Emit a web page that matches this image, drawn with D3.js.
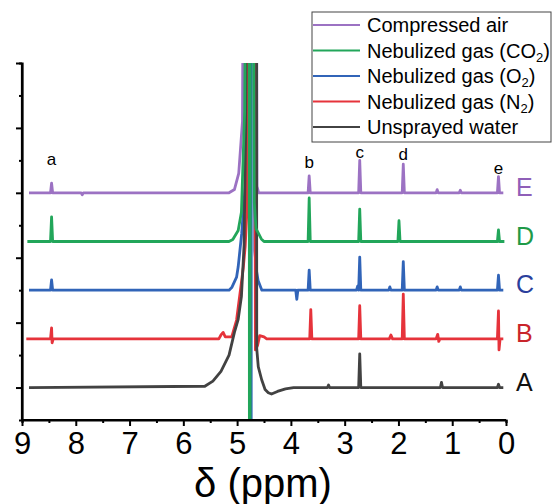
<!DOCTYPE html>
<html lang="en">
<head>
    <meta charset="UTF-8">
    <script src="https://d3js.org/d3.v7.min.js"></script>
    <style>
        body { margin: 0; background: #fff; }
        text { font-family: "Liberation Sans", Arial, sans-serif; }
    </style>
</head>
<body>
    <svg width="554" height="504"></svg>

    <script>
        // spectra as [ppm, intensity], each on its own baseline
        let seriesNames = ["Compressed air", "Nebulized gas (CO2)", "Nebulized gas (O2)", "Nebulized gas (N2)", "Unsprayed water"];
        let seriesLetters = ["E", "D", "C", "B", "A"];
        let seriesOffsets = [3, 2.25, 1.5, 0.75, 0];

        let specE = [[8.87,0],[8.47,0],[8.45,0.15],[8.43,0],[7.9,0],[7.88,-0.03],[7.86,0],[5.15,0],[5.05,0.05],[4.97,0.3],[4.9,1.1],[4.86,9],[4.65,9],[4.63,0.1],[4.6,0],
            [3.68,0],[3.66,0.26],[3.64,0],[2.74,0],[2.72,0.5],[2.70,0],[1.93,0],[1.91,0.44],[1.89,0],[1.3,0],[1.28,0.05],[1.26,0],[0.87,0],[0.85,0.04],[0.83,0],[0.16,0],[0.14,0.25],[0.12,0],[0.05,0]];
        let specD = [[8.9,0],[8.47,0],[8.45,0.38],[8.43,0],[5.15,0],[5.08,0.03],[4.98,0.17],[4.92,0.45],[4.86,2],[4.8,9],[4.775,9],[4.77,-9],[4.76,-9],[4.755,9],[4.72,9],[4.68,0.6],[4.65,0.2],[4.6,0.12],[4.55,0.04],[4.5,0],
            [3.68,0],[3.66,0.67],[3.64,0],[2.74,0],[2.72,0.5],[2.70,0],[2.01,0],[1.99,0.32],[1.97,0],[0.16,0],[0.14,0.18],[0.12,0],[0.03,0]];
        let specC = [[8.87,0],[8.47,0],[8.45,0.16],[8.43,0],[5.15,0],[5.1,0.04],[5.01,0.2],[4.98,0.36],[4.915,0.87],[4.85,1.6],[4.8,9],[4.75,9],[4.745,-9],[4.74,-9],[4.735,9],[4.7,9],[4.67,0.6],[4.64,0.3],[4.61,0.15],[4.54,0],
            [3.91,0],[3.89,-0.14],[3.87,0],[3.68,0],[3.66,0.31],[3.64,0],[2.78,0],[2.76,0.06],[2.74,0],[2.72,0.51],[2.70,0],[2.18,0],[2.16,0.05],[2.14,0],[1.93,0],[1.91,0.44],[1.89,0],
            [1.3,0],[1.28,0.05],[1.26,0],[0.87,0],[0.85,0.05],[0.83,0],[0.16,0],[0.14,0.23],[0.12,0],[0.05,0]];
        let specB = [[8.92,0],[8.47,0],[8.45,0.17],[8.44,-0.06],[8.42,0],[5.34,0],[5.3,0.06],[5.26,0.1],[5.22,0.03],[5.1,0.03],[5.01,0.29],[4.915,0.9],[4.885,1.1],[4.85,1.42],[4.82,1.93],[4.79,9],[4.68,9],[4.66,-0.17],[4.62,-0.1],[4.58,0.05],[4.5,0.03],[4.45,0],
            [3.65,0],[3.63,0.45],[3.61,0],[2.74,0],[2.72,0.51],[2.70,0],[2.17,0],[2.14,0.06],[2.11,0],[1.93,0],[1.91,0.69],[1.89,0],[1.3,0],[1.27,0.07],[1.25,-0.04],[1.23,0],
            [0.16,0],[0.14,0.43],[0.13,-0.17],[0.11,0],[0.05,0]];
        let specA = [[8.87,0],[5.6,0.02],[5.45,0.1],[5.3,0.25],[5.15,0.5],[5.05,0.85],[4.98,1.05],[4.92,1.4],[4.87,2.2],[4.84,4],[4.8,9],[4.64,9],[4.635,0.6],[4.606,0.32],[4.543,0.12],[4.48,-0.03],[4.42,-0.08],[4.36,-0.1],[4.25,-0.06],[4.1,-0.02],[3.95,0],
            [3.32,0],[3.3,0.04],[3.28,0],[2.74,0],[2.72,0.52],[2.70,0],[1.22,0],[1.2,0.08],[1.18,0],[0.16,0],[0.14,0.05],[0.12,0],[0.05,0]];
        let spectra = [specE, specD, specC, specB, specA];

        let peakLetters = ["a", "b", "c", "d", "e"];
        let peakPpm = [8.45, 3.66, 2.72, 1.91, 0.14];
        let peakLabelY = [3.43, 3.38, 3.53, 3.5, 3.29];

        let xTicks = [9, 8, 7, 6, 5, 4, 3, 2, 1, 0];

        let lineColors = ["#9c72c3", "#22a65a", "#3164b8", "#e6333b", "#424242"];
        let letterColors = ["#8f5fb8", "#1f9a48", "#2b3f9c", "#c9252b", "#111111"];

        let svg = d3.select("svg");
        let mLeft = 22, mRight = 506, mTop = 63, mBottom = 420;

        let x = d3.scaleLinear().domain([9, 0]).range([mLeft, mRight]);
        let y = d3.scaleLinear().domain([-0.5, 5]).range([mBottom, mTop]);

        svg.append("clipPath").attr("id", "plot")
            .append("rect").attr("x", mLeft).attr("y", mTop).attr("width", mRight - mLeft).attr("height", mBottom - mTop);

        let line = d3.line()
            .x(d => x(d[0]))
            .y((d, i, arr) => y(d[1] + arr.offset));

        // draw order: E, C, B, A, then D so the green strip stays on top
        let drawOrder = [0, 2, 3, 4, 1];
        let g = svg.append("g").attr("clip-path", "url(#plot)");
        drawOrder.forEach(k => {
            let pts = spectra[k];
            pts.offset = seriesOffsets[k];
            g.append("path")
                .attr("d", line(pts))
                .attr("fill", "none")
                .attr("stroke", lineColors[k])
                .attr("stroke-width", 2.8)
                .attr("stroke-linejoin", "round");
        });

        // axes
        let xAxis = d3.axisBottom(x).tickValues(xTicks).tickFormat(d3.format("d")).tickSize(6).tickPadding(6);
        let xMinor = d3.axisBottom(x).tickValues(d3.range(8.5, 0, -1)).tickFormat("").tickSize(3);
        let yAxis = d3.axisLeft(y).tickValues([0, 1, 2, 3, 4, 5]).tickFormat("").tickSize(6);
        let yMinor = d3.axisLeft(y).tickValues([0.5, 1.5, 2.5, 3.5, 4.5]).tickFormat("").tickSize(3);

        let gx = svg.append("g").attr("transform", "translate(0," + mBottom + ")").call(xAxis);
        svg.append("g").attr("transform", "translate(0," + mBottom + ")").call(xMinor);
        let gy = svg.append("g").attr("transform", "translate(" + mLeft + ",0)").call(yAxis);
        svg.append("g").attr("transform", "translate(" + mLeft + ",0)").call(yMinor);

        svg.selectAll(".domain").attr("stroke", "#000").attr("stroke-width", 2.2);
        svg.selectAll(".tick line").attr("stroke", "#000").attr("stroke-width", 2);
        gx.selectAll("text").attr("font-size", 31).attr("fill", "#000")
            .style("font-family", "'Liberation Sans', Arial, sans-serif");
        gx.select(".domain").attr("d", "M" + mLeft + ",0H" + mRight);
        gy.select(".domain").attr("d", "M0," + mTop + "V" + mBottom);

        svg.append("text")
            .attr("x", 263).attr("y", 497)
            .attr("text-anchor", "middle")
            .attr("font-size", 40)
            .text("δ (ppm)");

        // peak letters
        peakLetters.forEach((t, i) => {
            svg.append("text")
                .attr("x", x(peakPpm[i])).attr("y", y(peakLabelY[i]))
                .attr("text-anchor", "middle")
                .attr("font-size", 17)
                .text(t);
        });

        // series letters at the right
        seriesLetters.forEach((t, i) => {
            svg.append("text")
                .attr("x", 516).attr("y", y(seriesOffsets[i]) + 3)
                .attr("font-size", 25)
                .attr("fill", letterColors[i])
                .text(t);
        });

        // legend
        let lg = svg.append("g").attr("transform", "translate(312,12)");
        lg.append("rect").attr("width", 239).attr("height", 130)
            .attr("fill", "#fff").attr("stroke", "#444").attr("stroke-width", 1);
        seriesNames.forEach((name, i) => {
            let cy = 13 + i * 25.5;
            lg.append("line").attr("x1", 1).attr("x2", 48).attr("y1", cy).attr("y2", cy)
                .attr("stroke", lineColors[i]).attr("stroke-width", 2);
            let t = lg.append("text").attr("x", 55).attr("y", cy + 7).attr("font-size", 20);
            let m = name.match(/^(.*\()([A-Z]+)2(\))$/);
            if (m) {
                t.append("tspan").text(m[1] + m[2]);
                t.append("tspan").attr("font-size", 13).attr("dy", 4).text("2");
                t.append("tspan").attr("dy", -4).text(m[3]);
            } else {
                t.text(name);
            }
        });
    </script>
</body>
</html>
